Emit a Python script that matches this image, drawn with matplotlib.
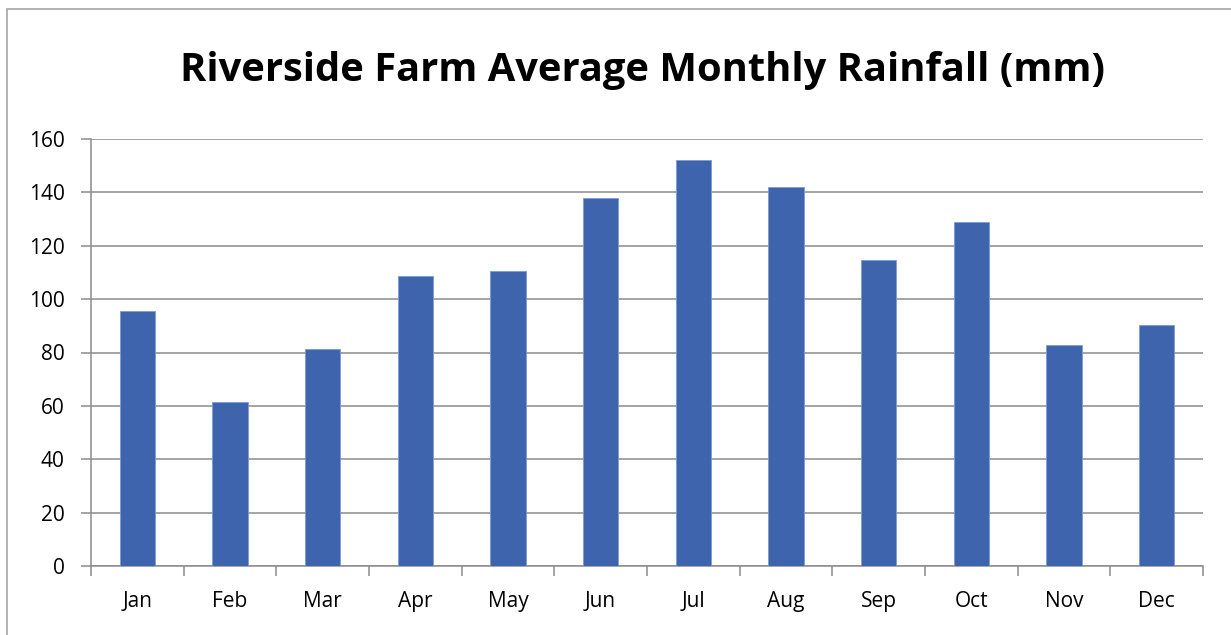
import matplotlib
matplotlib.use("Agg")
import matplotlib.pyplot as plt
from matplotlib.patches import Rectangle
import numpy as np

# average monthly rainfall (mm)
months = ["Jan", "Feb", "Mar", "Apr", "May", "Jun",
          "Jul", "Aug", "Sep", "Oct", "Nov", "Dec"]
rainfall = [95.5, 61.3, 81.3, 108.5, 110.4, 137.8,
            152.1, 142.0, 114.5, 128.8, 82.8, 90.3]
y_ticks = [0, 20, 40, 60, 80, 100, 120, 140, 160]

W, H = 1231, 635
fig = plt.figure(figsize=(W / 100, H / 100), dpi=100)
plt.rcParams["font.family"] = ["Open Sans", "DejaVu Sans"]

# chart frame (top and left edges)
fig.patches.append(Rectangle((7 / W, -0.1), 1.2, 1 - 9 / H + 0.1,
                             transform=fig.transFigure, fill=False,
                             edgecolor="#A6A6A6", linewidth=1.2))

ax = fig.add_axes([91 / W, 1 - 566 / H, (1203 - 91) / W, (566 - 139) / H])

x = np.arange(len(months))
ax.bar(x, rainfall, width=0.38, color="#3D64AD", edgecolor="#7F9BD0",
       linewidth=0.6, zorder=3)

ax.set_xlim(-0.5, len(months) - 0.5)
ax.set_ylim(0, 160)
ax.set_yticks(y_ticks)
ax.set_yticklabels([str(v) for v in y_ticks], fontsize=15)
ax.yaxis.grid(True, color="#8C8C8C", linewidth=1.1, zorder=0)

# ticks at category boundaries, labels centred
ax.set_xticks(np.arange(len(months) + 1) - 0.5)
ax.set_xticklabels([])
ax.set_xticks(x, minor=True)
ax.set_xticklabels(months, minor=True, fontsize=15)
ax.tick_params(axis="x", which="major", length=7, color="#8C8C8C", width=1.1)
ax.tick_params(axis="x", which="minor", length=0, pad=18)
ax.tick_params(axis="y", length=7, color="#8C8C8C", width=1.1, pad=12)

for side in ["top", "right"]:
    ax.spines[side].set_visible(False)
for side in ["left", "bottom"]:
    ax.spines[side].set_color("#8C8C8C")
    ax.spines[side].set_linewidth(1.1)

fig.text(642 / W, 1 - 70 / H, "Riverside Farm Average Monthly Rainfall (mm)",
         ha="center", va="center", fontsize=28.7, fontweight="bold")

fig.savefig("out.png", dpi=100)
